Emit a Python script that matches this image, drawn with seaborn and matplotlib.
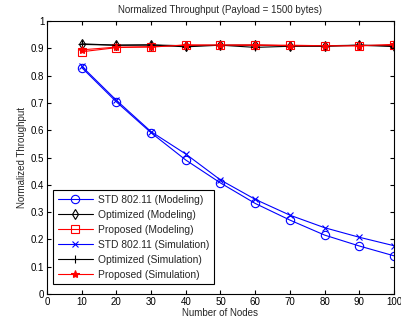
import matplotlib
matplotlib.use("Agg")
import matplotlib.pyplot as plt
import seaborn as sns
import pandas as pd

sns.set_style("white")
plt.rcParams['font.family'] = ['Liberation Sans', 'DejaVu Sans']

nodes = [10, 20, 30, 40, 50, 60, 70, 80, 90, 100]
std_model = [0.830, 0.704, 0.591, 0.491, 0.407, 0.332, 0.271, 0.216, 0.176, 0.140]
opt_model = [0.917, 0.912, 0.913, 0.910, 0.912, 0.912, 0.910, 0.910, 0.912, 0.910]
prop_model = [0.888, 0.903, 0.907, 0.912, 0.912, 0.912, 0.912, 0.910, 0.910, 0.912]
std_sim = [0.835, 0.710, 0.595, 0.513, 0.418, 0.347, 0.289, 0.243, 0.208, 0.177]
opt_sim = [0.915, 0.912, 0.913, 0.906, 0.912, 0.904, 0.908, 0.908, 0.912, 0.907]
prop_sim = [0.895, 0.905, 0.905, 0.913, 0.912, 0.913, 0.910, 0.910, 0.910, 0.915]

labels = ["STD 802.11 (Modeling)", "Optimized (Modeling)", "Proposed (Modeling)",
          "STD 802.11 (Simulation)", "Optimized (Simulation)", "Proposed (Simulation)"]
series = [std_model, opt_model, prop_model, std_sim, opt_sim, prop_sim]
colors = ["#0000ff", "#000000", "#ff0000", "#0000ff", "#000000", "#ff0000"]
markers = ["o", "d", "s", "x", "+", "*"]
open_m = [True, True, True, False, False, False]
msizes = [6, 5.5, 6, 4, 6, 6]

fig = plt.figure(figsize=(4.02, 3.24), dpi=100)
ax = fig.add_axes([0.117, 0.0926, 0.863, 0.842])

for lab, vals, c, m, o, ms in zip(labels, series, colors, markers, open_m, msizes):
    df = pd.DataFrame({"Nodes": nodes, "Thr": vals})
    kw = dict(markerfacecolor="none") if o else dict(markerfacecolor=c)
    sns.lineplot(data=df, x="Nodes", y="Thr", ax=ax, color=c, marker=m,
                 markersize=ms, markeredgecolor=c, markeredgewidth=0.8,
                 linewidth=0.8, label=lab, **kw)

ax.set_xlim(0, 100)
ax.set_ylim(0, 1)
ax.set_xticks(range(0, 101, 10))
ax.set_yticks([i / 10 for i in range(11)])
ax.set_yticklabels(["0", "0.1", "0.2", "0.3", "0.4", "0.5", "0.6", "0.7", "0.8", "0.9", "1"])
ax.tick_params(direction="in", length=3, width=0.8, labelsize=7, top=True, right=True,
               bottom=True, left=True, pad=2, colors="black")
for s in ax.spines.values():
    s.set_visible(True)
    s.set_color("black")
    s.set_linewidth(0.8)
ax.set_xlabel("Number of Nodes", fontsize=7, labelpad=1)
ax.set_ylabel("Normalized Throughput", fontsize=7, labelpad=3)
ax.set_title("Normalized Throughput (Payload = 1500 bytes)", fontsize=7, pad=6)

leg = ax.legend(loc="lower left", bbox_to_anchor=(0.017, 0.036), fontsize=7.4, frameon=True,
                fancybox=False, edgecolor="black", framealpha=1, borderpad=0.45,
                labelspacing=0.48, handlelength=3.4, handletextpad=0.5, borderaxespad=0)
leg.get_frame().set_linewidth(0.8)

fig.savefig("out.png", dpi=100)
